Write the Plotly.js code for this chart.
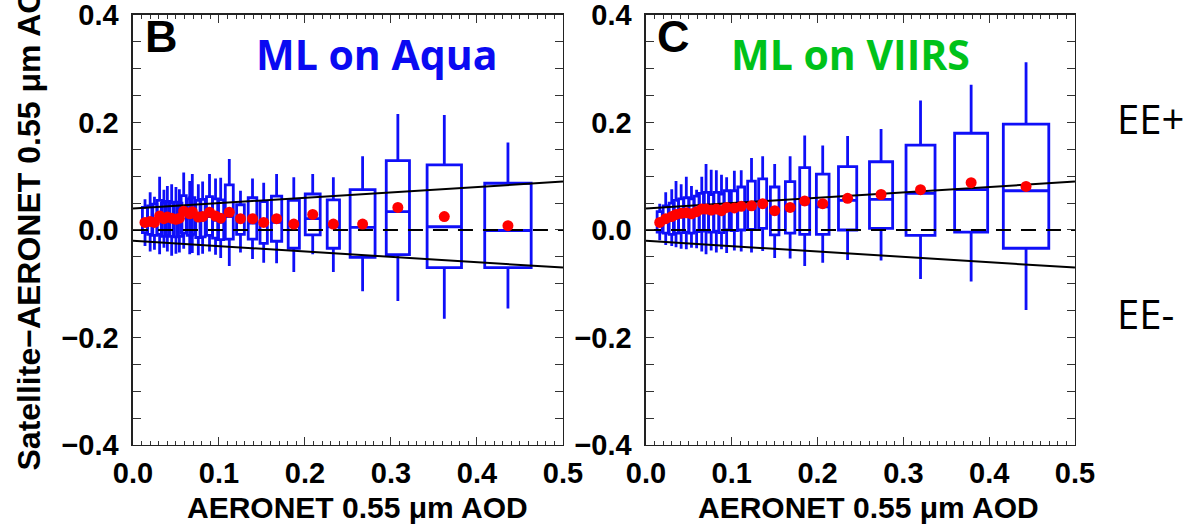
<!DOCTYPE html>
<html><head><meta charset="utf-8">
<script src="https://cdn.plot.ly/plotly-3.0.1.min.js"></script>
<style>html,body{margin:0;padding:0;background:#fff}#chart{width:1184px;height:524px}</style>
</head><body><div id="chart"></div>
<script>
// ---- Panel B: ML on Aqua ----
const aquaX    = [0.014,0.020,0.025,0.031,0.036,0.040,0.045,0.050,0.054,0.059,0.066,0.069,0.076,0.081,0.089,0.096,0.102,0.112,0.125,0.139,0.152,0.167,0.187,0.209,0.233,0.267,0.308,0.362,0.436];
const aquaBin  = [0.006,0.006,0.006,0.006,0.006,0.006,0.006,0.006,0.006,0.006,0.006,0.006,0.006,0.006,0.007,0.007,0.007,0.0093,0.009,0.010,0.0085,0.012,0.013,0.0174,0.0143,0.029,0.027,0.040,0.054];
const aquaMean = [0.014,0.016,0.014,0.026,0.021,0.024,0.022,0.020,0.022,0.035,0.030,0.034,0.024,0.025,0.033,0.026,0.022,0.033,0.021,0.021,0.014,0.021,0.011,0.029,0.011,0.011,0.042,0.025,0.008];
const aquaMed  = [0.012,0.012,0.011,0.020,0.016,0.018,0.016,0.015,0.016,0.028,0.022,0.026,0.018,0.018,0.025,0.018,0.014,0.025,0.015,0.013,0.008,0.014,0.008,0.021,0.006,0.005,0.034,0.006,-0.001];
const aquaQ3   = [0.042,0.045,0.048,0.055,0.050,0.053,0.050,0.052,0.050,0.064,0.058,0.060,0.055,0.057,0.062,0.058,0.056,0.084,0.047,0.060,0.053,0.063,0.055,0.067,0.056,0.075,0.129,0.121,0.087];
const aquaQ1   = [-0.005,-0.008,-0.010,-0.008,-0.012,-0.010,-0.012,-0.013,-0.012,-0.006,-0.010,-0.008,-0.014,-0.013,-0.010,-0.015,-0.018,-0.017,-0.008,-0.017,-0.025,-0.021,-0.034,-0.009,-0.034,-0.051,-0.046,-0.070,-0.070];
const aquaHi   = [0.057,0.070,0.062,0.099,0.075,0.082,0.085,0.080,0.076,0.107,0.091,0.104,0.085,0.090,0.104,0.096,0.097,0.132,0.073,0.096,0.088,0.104,0.098,0.104,0.098,0.137,0.216,0.214,0.163];
const aquaLo   = [-0.030,-0.040,-0.037,-0.045,-0.033,-0.040,-0.048,-0.044,-0.042,-0.035,-0.045,-0.043,-0.047,-0.044,-0.040,-0.046,-0.052,-0.067,-0.042,-0.054,-0.061,-0.062,-0.078,-0.045,-0.078,-0.114,-0.132,-0.165,-0.146];

// ---- Panel C: ML on VIIRS ----
const viirsX    = [0.016,0.023,0.030,0.035,0.041,0.047,0.053,0.059,0.065,0.070,0.076,0.082,0.088,0.094,0.103,0.111,0.123,0.136,0.150,0.168,0.185,0.206,0.235,0.274,0.320,0.379,0.443];
const viirsBin  = [0.006,0.006,0.006,0.006,0.006,0.006,0.006,0.006,0.006,0.006,0.006,0.006,0.006,0.006,0.007,0.008,0.009,0.0093,0.010,0.011,0.0116,0.0148,0.0213,0.027,0.0338,0.0385,0.053];
const viirsMean = [0.014,0.021,0.025,0.029,0.031,0.032,0.030,0.034,0.039,0.039,0.037,0.039,0.036,0.042,0.041,0.044,0.045,0.049,0.036,0.042,0.054,0.049,0.059,0.066,0.075,0.088,0.081];
const viirsMed  = [0.010,0.015,0.018,0.022,0.024,0.026,0.024,0.028,0.033,0.033,0.030,0.033,0.030,0.036,0.035,0.038,0.040,0.043,0.030,0.036,0.048,0.043,0.055,0.057,0.068,0.075,0.073];
const viirsQ3   = [0.034,0.045,0.050,0.055,0.058,0.060,0.058,0.063,0.068,0.070,0.066,0.070,0.067,0.073,0.073,0.080,0.091,0.095,0.080,0.090,0.116,0.104,0.118,0.127,0.158,0.180,0.197];
const viirsQ1   = [-0.004,-0.006,-0.008,-0.006,-0.005,-0.004,-0.006,-0.003,-0.002,-0.001,-0.004,-0.002,-0.005,0.000,-0.001,0.000,0.001,0.003,-0.009,-0.006,-0.008,-0.008,0.000,0.003,-0.010,-0.004,-0.034];
const viirsHi   = [0.049,0.070,0.076,0.091,0.085,0.099,0.082,0.075,0.099,0.123,0.112,0.111,0.103,0.098,0.110,0.111,0.134,0.137,0.123,0.137,0.176,0.157,0.175,0.188,0.241,0.270,0.312];
const viirsLo   = [-0.019,-0.028,-0.030,-0.032,-0.035,-0.036,-0.033,-0.034,-0.040,-0.045,-0.038,-0.042,-0.036,-0.043,-0.038,-0.040,-0.042,-0.039,-0.052,-0.053,-0.067,-0.061,-0.056,-0.057,-0.091,-0.096,-0.149];

// ---- Expected error envelope and 1:1 reference ----
const eeX     = [0, 0.5];
const eeUpper = [0.04, 0.09];
const eeLower = [-0.02, -0.07];
const zeroY   = [0, 0];

const yTickVals = [-0.4,-0.2,0.0,0.2,0.4];
const xTickVals = [0.0,0.1,0.2,0.3,0.4,0.5];

const BLUE = '#0f0ff8';
const traces = [];
function addPanel(xs, w, lo, q1, med, q3, hi, mean, xa, ya) {
  for (let i = 0; i < xs.length; i++) {
    traces.push({type:'box', orientation:'v', x:[xs[i]], q1:[q1[i]], median:[med[i]], q3:[q3[i]],
      lowerfence:[lo[i]], upperfence:[hi[i]], width:w[i], xaxis:xa, yaxis:ya,
      line:{color:BLUE, width:2.8}, fillcolor:'rgba(0,0,0,0)', whiskerwidth:0,
      boxpoints:false, showlegend:false, hoverinfo:'skip'});
  }
  traces.push({type:'scatter', mode:'lines', x:eeX, y:eeUpper, xaxis:xa, yaxis:ya, line:{color:'#000', width:2}, showlegend:false, hoverinfo:'skip'});
  traces.push({type:'scatter', mode:'lines', x:eeX, y:eeLower, xaxis:xa, yaxis:ya, line:{color:'#000', width:2}, showlegend:false, hoverinfo:'skip'});
  traces.push({type:'scatter', mode:'lines', x:eeX, y:zeroY, xaxis:xa, yaxis:ya, line:{color:'#000', width:1.8, dash:'15px,10px'}, showlegend:false, hoverinfo:'skip'});
  traces.push({type:'scatter', mode:'markers', x:xs, y:mean, xaxis:xa, yaxis:ya, marker:{color:'#ff0000', size:11}, showlegend:false, hoverinfo:'skip'});
}
addPanel(aquaX, aquaBin, aquaLo, aquaQ1, aquaMed, aquaQ3, aquaHi, aquaMean, 'x', 'y');
addPanel(viirsX, viirsBin, viirsLo, viirsQ1, viirsMed, viirsQ3, viirsHi, viirsMean, 'x2', 'y2');

const tickFont = {family:'Liberation Sans, Arial, sans-serif', size:29, color:'#000', weight:'bold'};
function xAxis(dom, anchor) {
  return {domain:dom, anchor:anchor, range:[0,0.5], tickvals:xTickVals, tickformat:'.1f',
    ticks:'inside', ticklen:8, tickwidth:1, tickcolor:'#333', showline:true, linecolor:'#222', linewidth:1.5,
    mirror:'allticks', showgrid:false, zeroline:false, tickfont:tickFont, ticklabelstandoff:2, ticklabeloverflow:'allow',
    minor:{dtick:0.01, tick0:0, ticks:'inside', ticklen:4, tickwidth:1, tickcolor:'#333', showgrid:false}};
}
function yAxis(anchor) {
  return {domain:[0.1508,0.9714], anchor:anchor, range:[-0.4,0.4], tickvals:yTickVals, tickformat:'.1f',
    ticks:'inside', ticklen:8, tickwidth:1, tickcolor:'#333', showline:true, linecolor:'#222', linewidth:1.5,
    mirror:'allticks', showgrid:false, zeroline:false, tickfont:tickFont, ticklabelstandoff:7, ticklabeloverflow:'allow',
    minor:{dtick:0.05, tick0:0, ticks:'inside', ticklen:8, tickwidth:1, tickcolor:'#333', showgrid:false}};
}

const titleFont = {family:'Liberation Sans, Arial, sans-serif', size:30, color:'#000'};
function ann(x, y, text, font, extra) {
  return Object.assign({xref:'paper', yref:'paper', x:x/1184, y:1-y/524, xanchor:'center', yanchor:'middle',
    text:text, showarrow:false, font:font}, extra || {});
}
const layout = {
  width:1184, height:524, margin:{l:0,r:0,t:0,b:0}, paper_bgcolor:'#fff', plot_bgcolor:'#fff',
  showlegend:false, boxmode:'overlay',
  xaxis:xAxis([0.1123,0.4755],'y'), yaxis:yAxis('x'),
  xaxis2:xAxis([0.5456,0.9079],'y2'), yaxis2:yAxis('x2'),
  annotations:[
    ann(161, 37, '<b>B</b>', {family:'Liberation Sans, Arial', size:45, color:'#000'}),
    ann(673, 37, '<b>C</b>', {family:'Liberation Sans, Arial', size:45, color:'#000'}),
    ann(376, 54, '<b>ML on Aqua</b>', {family:'Open Sans', size:41, color:'#0a0af2'}),
    ann(850, 54, '<b>ML on VIIRS</b>', {family:'Open Sans', size:41, color:'#00c21a'}),
    ann(1150, 118, 'EE+', {family:'Open Sans', size:40, color:'#000'}),
    ann(1145, 313, 'EE-', {family:'Open Sans', size:40, color:'#000'}),
    ann(357, 507, '<b>AERONET 0.55 μm AOD</b>', titleFont),
    ann(868, 507, '<b>AERONET 0.55 μm AOD</b>', titleFont),
    ann(28, 473, '<b>Satellite−AERONET 0.55 μm AOD</b>', {family:'Liberation Sans, Arial', size:32, color:'#000'}, {yanchor:'bottom', textangle:-90})
  ]
};
Plotly.newPlot('chart', traces, layout, {staticPlot:true, displayModeBar:false});
</script>
</body></html>
